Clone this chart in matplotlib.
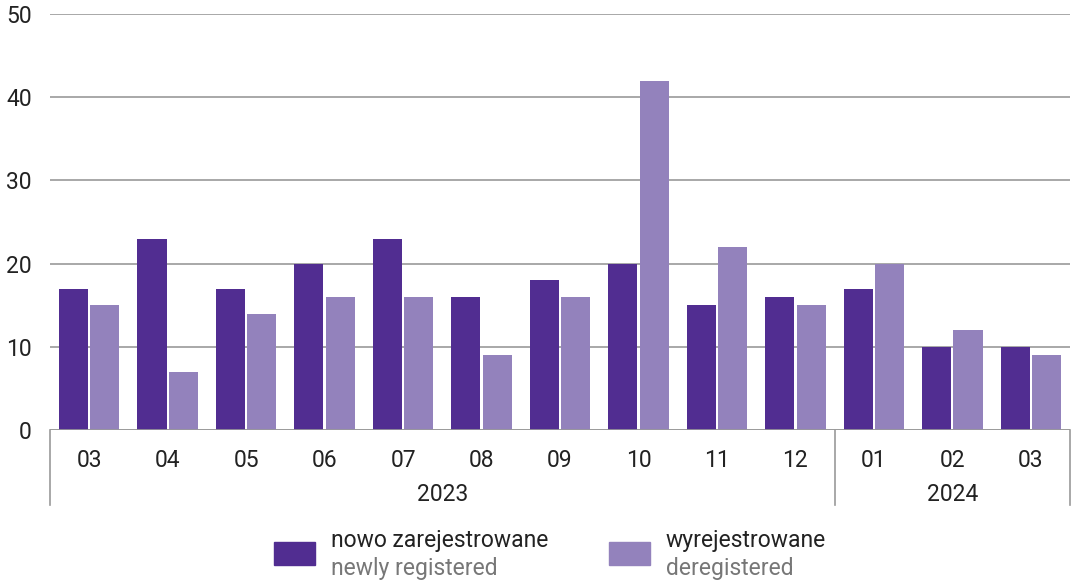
import matplotlib.pyplot as plt
import numpy as np
from matplotlib.patches import Rectangle
from matplotlib.lines import Line2D

plt.rcParams['font.family'] = ['Roboto', 'DejaVu Sans']

# data
months = ['03', '04', '05', '06', '07', '08', '09', '10', '11', '12', '01', '02', '03']
years = ['2023', '2024']
year_counts = [10, 3]
new_reg = [17, 23, 17, 20, 23, 16, 18, 20, 15, 16, 17, 10, 10]
dereg = [15, 7, 14, 16, 16, 9, 16, 42, 22, 15, 20, 12, 9]

dark = '#512d91'
light = '#9382bc'
grid_c = '#9a9a9a'

fig = plt.figure(figsize=(10.74, 5.84), dpi=100)
W, H = 1074, 584
ax = fig.add_axes([50 / W, (H - 430) / H, 1020 / W, 416 / H])

x = np.arange(len(months))
ax.bar(x - 0.2, new_reg, width=0.37, color=dark, zorder=3)
ax.bar(x + 0.2, dereg, width=0.37, color=light, zorder=3)

ax.set_xlim(-0.5, len(months) - 0.5)
ax.set_ylim(0, 50)
ax.set_yticks(range(0, 51, 10))
ax.yaxis.grid(True, color=grid_c, linewidth=1.2, zorder=0)
for s in ax.spines.values():
    s.set_visible(False)
ax.tick_params(axis='y', length=0, pad=13, labelsize=16.5, labelcolor='#222222')
ax.set_xticks([])

# baseline
ax.axhline(0, color=grid_c, linewidth=1.2, zorder=4)

# month labels
for i, m in enumerate(months):
    ax.text(i, -3.7, m, ha='center', va='center', fontsize=16.5, color='#222222')

# year groups with separators
trans = ax.get_xaxis_transform()
start = -0.5
bounds = [start]
for y, n in zip(years, year_counts):
    mid = start + n / 2
    ax.text(mid, -0.155, y, transform=trans, ha='center', va='center', fontsize=16.5, color='#222222')
    start += n
    bounds.append(start)
for b in bounds:
    ax.add_line(Line2D([b, b], [0, -0.18], transform=trans, color=grid_c, linewidth=1.2, clip_on=False))

# legend
items = [(274, dark, 'nowo zarejestrowane', 'newly registered'),
         (609, light, 'wyrejestrowane', 'deregistered')]
for px, c, pl, en in items:
    fig.patches.append(Rectangle((px / W, (H - 565) / H), 41 / W, 23 / H,
                                 transform=fig.transFigure, color=c))
    fig.text((px + 57) / W, (H - 541) / H, pl, fontsize=16.5, color='#222222', va='center')
    fig.text((px + 57) / W, (H - 569) / H, en, fontsize=16.5, color='#777777', va='center')

fig.savefig('out.png', dpi=100)
